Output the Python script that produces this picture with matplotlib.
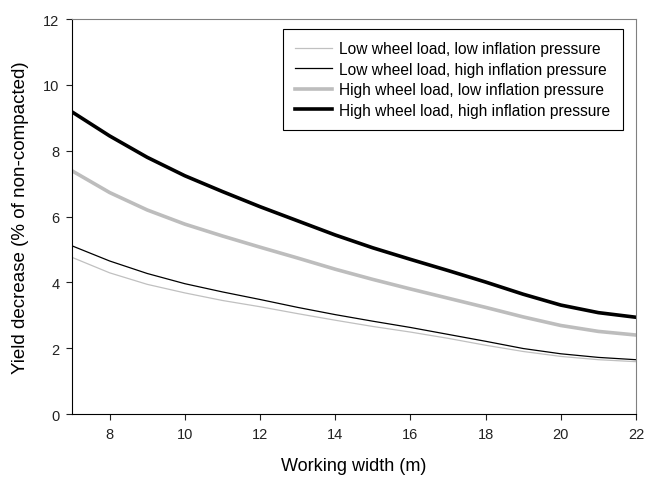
import matplotlib
matplotlib.use('Agg')
import matplotlib.pyplot as plt

plt.rcParams['font.family'] = ['Liberation Sans', 'DejaVu Sans']

width = [7, 8, 9, 10, 11, 12, 13, 14, 15, 16, 17, 18, 19, 20, 21, 22]
low_load_low_p = [4.76, 4.29, 3.94, 3.68, 3.45, 3.26, 3.05, 2.85, 2.66, 2.49, 2.30, 2.09, 1.90, 1.75, 1.65, 1.59]
low_load_high_p = [5.11, 4.65, 4.27, 3.96, 3.71, 3.48, 3.24, 3.02, 2.82, 2.63, 2.42, 2.21, 1.99, 1.83, 1.72, 1.65]
high_load_low_p = [7.39, 6.73, 6.20, 5.77, 5.41, 5.07, 4.74, 4.40, 4.09, 3.80, 3.52, 3.24, 2.95, 2.69, 2.51, 2.40]
high_load_high_p = [9.18, 8.45, 7.80, 7.24, 6.76, 6.30, 5.87, 5.44, 5.05, 4.70, 4.36, 4.01, 3.64, 3.31, 3.08, 2.94]

labels = ['Low wheel load, low inflation pressure',
          'Low wheel load, high inflation pressure',
          'High wheel load, low inflation pressure',
          'High wheel load, high inflation pressure']

fig = plt.figure(figsize=(6.46, 4.81), dpi=100)
ax = fig.add_axes([0.1115, 0.1372, 0.873, 0.821])

ax.plot(width, low_load_low_p, color='#c0c0c0', lw=0.9, label=labels[0])
ax.plot(width, low_load_high_p, color='black', lw=0.9, label=labels[1])
ax.plot(width, high_load_low_p, color='#bdbdbd', lw=2.6, label=labels[2])
ax.plot(width, high_load_high_p, color='black', lw=2.6, label=labels[3])

ax.set_xlim(7, 22)
ax.set_ylim(0, 12)
ax.set_xticks(range(8, 23, 2))
ax.set_yticks(range(0, 13, 2))
ax.tick_params(direction='out', length=4, width=0.8, pad=5, labelsize=10.5, colors='#222222')
ax.spines['left'].set_color('black')
ax.spines['bottom'].set_color('black')
ax.spines['top'].set_color('#808080')
ax.spines['right'].set_color('#808080')
for s in ax.spines.values():
    s.set_linewidth(0.8)

ax.set_xlabel('Working width (m)', fontsize=13, labelpad=12)
ax.set_ylabel('Yield decrease (% of non-compacted)', fontsize=13.5, labelpad=10)

leg = ax.legend(loc='upper right', bbox_to_anchor=(0.977, 0.975), borderaxespad=0,
                fontsize=11.2, fancybox=False, edgecolor='black', framealpha=1,
                handlelength=2.4, handletextpad=0.45, borderpad=0.8, labelspacing=0.35)
leg.get_frame().set_linewidth(0.8)

plt.savefig('out.png', dpi=100)
